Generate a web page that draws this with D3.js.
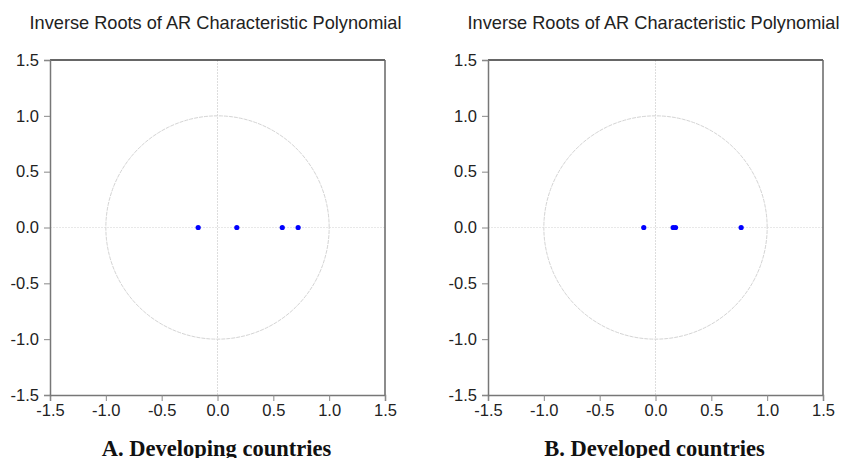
<!DOCTYPE html>
<meta charset="utf-8">
<style>
body { margin: 0; background: #fff; }
svg { display: block; }
.tick text { font-family: Arial, "Liberation Sans", sans-serif; font-size: 16.5px; fill: #222; }
.title { font-family: Arial, "Liberation Sans", sans-serif; font-size: 18.2px; fill: #222; }
.caption { font-family: "Times New Roman", "Liberation Serif", serif; font-size: 22.5px; font-weight: bold; fill: #111; }
</style>
<svg width="845" height="458"></svg>
<script src="https://d3js.org/d3.v7.min.js"></script>
<script>

// inverse roots (real parts, imaginary parts all 0)
var panelNames = ["A. Developing countries", "B. Developed countries"];
var rootsA = [-0.173, 0.173, 0.58, 0.722];
var rootsB = [-0.105, 0.158, 0.179, 0.767];
var tickValues = [-1.5, -1.0, -0.5, 0.0, 0.5, 1.0, 1.5];
var titleText = "Inverse Roots of AR Characteristic Polynomial";

var svg = d3.select("svg");

var panels = [
  { left: 50, roots: rootsA, name: panelNames[0] },
  { left: 488, roots: rootsB, name: panelNames[1] }
];

var plotTop = 60, size = 335;

panels.forEach(function(p) {
  var x = d3.scaleLinear().domain([-1.5, 1.5]).range([p.left, p.left + size]);
  var y = d3.scaleLinear().domain([-1.5, 1.5]).range([plotTop + size, plotTop]);
  var g = svg.append("g");

  // zero lines
  g.append("line")
    .attr("x1", x(0)).attr("x2", x(0))
    .attr("y1", y(1.5)).attr("y2", y(-1.5))
    .attr("stroke", "#ddd").attr("stroke-dasharray", "2,1");
  g.append("line")
    .attr("x1", x(-1.5)).attr("x2", x(1.5))
    .attr("y1", y(0)).attr("y2", y(0))
    .attr("stroke", "#e8e8e8").attr("stroke-dasharray", "2,1");

  // unit circle
  var circ = d3.range(0, 361, 2).map(function(a) {
    var r = a * Math.PI / 180;
    return [Math.cos(r), Math.sin(r)];
  });
  g.append("path")
    .datum(circ)
    .attr("d", d3.line().x(d => x(d[0])).y(d => y(d[1])))
    .attr("fill", "none")
    .attr("stroke", "#d4d4d4")
    .attr("stroke-dasharray", "4,1");

  // frame top/right
  g.append("line")
    .attr("x1", x(-1.5)).attr("x2", x(1.5))
    .attr("y1", y(1.5)).attr("y2", y(1.5))
    .attr("stroke", "#333").attr("stroke-width", 1.5);
  g.append("line")
    .attr("x1", x(1.5)).attr("x2", x(1.5))
    .attr("y1", y(1.5)).attr("y2", y(-1.5))
    .attr("stroke", "#666").attr("stroke-width", 1.5);

  var fmt = function(d) { return d3.format(".1f")(d).replace("\u2212", "-"); };
  var xAxis = g.append("g")
    .attr("transform", "translate(0," + y(-1.5) + ")")
    .call(d3.axisBottom(x).tickValues(tickValues).tickFormat(fmt).tickSize(6).tickPadding(3));
  var yAxis = g.append("g")
    .attr("transform", "translate(" + x(-1.5) + ",0)")
    .call(d3.axisLeft(y).tickValues(tickValues).tickFormat(fmt).tickSize(6).tickPadding(5));
  [xAxis, yAxis].forEach(function(a) {
    a.attr("font-family", null).attr("font-size", null);
    a.select(".domain").attr("stroke", "#777").attr("stroke-width", 1.5);
    a.selectAll(".tick line").attr("stroke", "#888");
  });

  // roots
  g.selectAll("circle.root")
    .data(p.roots)
    .enter().append("circle")
    .attr("class", "root")
    .attr("cx", d => x(d))
    .attr("cy", y(0))
    .attr("r", 2.6)
    .attr("fill", "#0000ff");

  g.append("text")
    .attr("class", "title")
    .attr("x", x(0) - 2)
    .attr("y", 29)
    .attr("text-anchor", "middle")
    .text(titleText);

  g.append("text")
    .attr("class", "caption")
    .attr("x", x(0) - 1)
    .attr("y", 456)
    .attr("text-anchor", "middle")
    .text(p.name);
});

</script>
